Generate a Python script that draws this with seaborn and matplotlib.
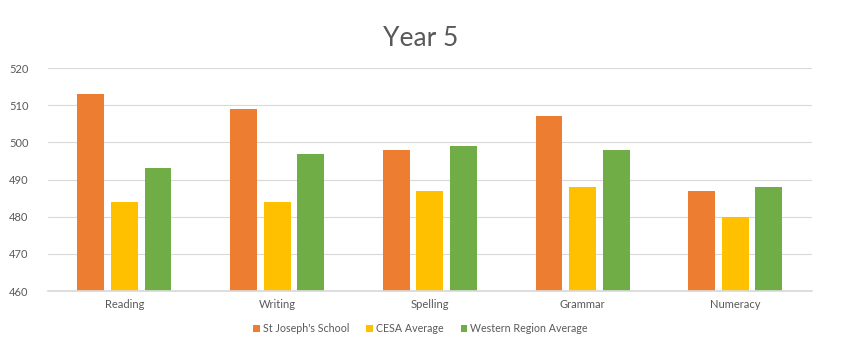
import matplotlib
matplotlib.use("Agg")
import matplotlib.pyplot as plt
import seaborn as sns
import pandas as pd

categories = ["Reading", "Writing", "Spelling", "Grammar", "Numeracy"]
series_names = ["St Joseph's School", "CESA Average", "Western Region Average"]
st_joseph = [513, 509, 498, 507, 487]
cesa = [484, 484, 487, 488, 480]
western = [493, 497, 499, 498, 488]
colors = ["#ED7D31", "#FFC000", "#70AD47"]

rows = []
for name, vals in zip(series_names, [st_joseph, cesa, western]):
    for c, v in zip(categories, vals):
        rows.append({"Subject": c, "Series": name, "Score": v})
df = pd.DataFrame(rows)

sns.set_theme(style="white")
plt.rcParams['font.family'] = ['Lato', 'DejaVu Sans']
txt = "#595959"

fig = plt.figure(figsize=(8.42, 3.41), dpi=100)
ax = fig.add_axes([0.057, 0.1466, 0.907, 0.6534])
sns.barplot(data=df, x="Subject", y="Score", hue="Series", order=categories,
            hue_order=series_names, palette=colors, width=0.66, gap=0.2,
            ax=ax, legend=True, saturation=1, linewidth=0)
ax.set_ylim(460, 520)
ax.set_yticks(range(460, 521, 10))
ax.set_xlim(-0.5, 4.5)
ax.yaxis.grid(True, color="#D9D9D9", linewidth=0.8)
ax.set_axisbelow(True)
for s in ax.spines.values():
    s.set_visible(False)
ax.spines["bottom"].set_visible(True)
ax.spines["bottom"].set_color("#D9D9D9")
ax.set_xlabel("")
ax.set_ylabel("")
ax.tick_params(axis="both", length=0, labelsize=8, colors=txt, pad=6)
ax.tick_params(axis="y", pad=14)
fig.suptitle("Year 5", x=0.5, y=0.925, fontsize=19, color=txt)
ax.legend(loc="upper center", bbox_to_anchor=(0.488, -0.1), ncol=3, frameon=False,
          fontsize=7.7, labelcolor=txt, handlelength=0.6, handleheight=0.6,
          handletextpad=0.3, columnspacing=1.6)
fig.savefig("out.png", dpi=100)
